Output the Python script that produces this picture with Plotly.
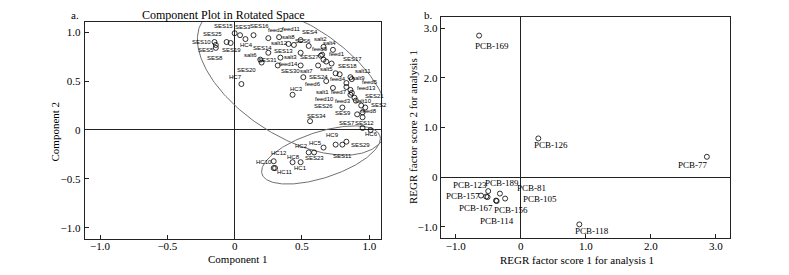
import numpy as np
import plotly.graph_objects as go

# ---------------- data: panel a (rotated component loadings) ----------------
left_names = ["SES15", "SES3", "SES16", "SES25", "SES10", "SES5", "SES8", "SES19", "HC4",
              "feed2", "feed11", "SES4", "salt8", "salt12", "SES6", "salt2", "salt4", "feed9",
              "SES14", "salt6", "SES20", "SES13", "salt3", "SES31", "SES27", "feed1", "feed14",
              "SES30", "salt7", "salt5", "SES17", "SES18", "SES24", "salt11", "feed4", "salt9",
              "feed5", "feed13", "feed7", "SES21", "salt1", "feed6", "HC3", "HC7", "feed3",
              "salt10", "feed10", "SES2", "SES26", "SES9", "feed8", "SES34", "SES7", "SES12",
              "HC6", "HC9", "HC5", "HC2", "SES29", "SES23", "SES11", "HC12", "HC8", "HC1",
              "HC10", "HC11"]
left_comp1 = [0.00, 0.04, 0.14, -0.06, -0.15, -0.14, -0.14, -0.03, 0.08,
              0.25, 0.33, 0.49, 0.40, 0.44, 0.55, 0.66, 0.73, 0.65,
              0.25, 0.19, 0.20, 0.49, 0.34, 0.32, 0.64, 0.66, 0.49,
              0.51, 0.62, 0.68, 0.72, 0.75, 0.78, 0.86, 0.83, 0.87,
              0.86, 0.87, 0.86, 0.89, 0.73, 0.68, 0.43, 0.05, 0.90,
              0.94, 0.83, 0.97, 0.80, 0.91, 0.95, 0.56, 0.95, 0.95,
              1.01, 0.80, 0.66, 0.55, 0.83, 0.59, 0.75, 0.29, 0.43, 0.49,
              0.29, 0.30]
left_comp2 = [0.99, 0.97, 0.97, 0.90, 0.90, 0.87, 0.84, 0.89, 0.93,
              0.94, 0.95, 0.92, 0.88, 0.87, 0.86, 0.85, 0.82, 0.77,
              0.79, 0.72, 0.69, 0.79, 0.74, 0.66, 0.76, 0.72, 0.66,
              0.54, 0.66, 0.70, 0.68, 0.58, 0.57, 0.54, 0.48, 0.52,
              0.41, 0.38, 0.36, 0.33, 0.43, 0.50, 0.36, 0.47, 0.30,
              0.25, 0.44, 0.23, 0.23, 0.16, 0.18, 0.09, 0.13, 0.02,
              0.00, -0.15, -0.18, -0.23, -0.12, -0.23, -0.15, -0.32, -0.33, -0.33,
              -0.39, -0.39]

# ---------------- data: panel b (REGR factor scores) ----------------
right_names = ["PCB-169", "PCB-126", "PCB-77", "PCB-118", "PCB-157", "PCB-123",
               "PCB-189", "PCB-81", "PCB-105", "PCB-167", "PCB-156", "PCB-114"]
right_score1 = [-0.64, 0.27, 2.86, 0.90, -0.61, -0.53, -0.50, -0.32, -0.24, -0.51, -0.38, -0.37]
right_score2 = [2.85, 0.78, 0.41, -0.95, -0.37, -0.39, -0.28, -0.33, -0.43, -0.40, -0.47, -0.48]

left_ticks = [-1.0, -0.5, 0, 0.5, 1.0]
left_ticktext = ["\u22121.0", "\u22120.5", "0", "0.5", "1.0"]
right_ticks = [-1, 0, 1, 2, 3]
right_ticktext = ["\u22121.0", "0", "1.0", "2.0", "3.0"]

# ---------------- layout-only: label offsets in pixels (dx right, dy down) ----------------
left_label_offsets = [(-11, -7), (3, -8), (6, -9), (-14, -8), (-13, 0), (-10, 5), (-1, 10), (1, 7), (1, 6),
                      (8, -8), (12, -8), (9, -8), (0, -7), (-14, -2), (-6, -5), (-3, -8), (-3, -7), (-2, -6),
                      (-6, -5), (-10, -5), (-15, 7), (-17, -2), (10, -1), (-10, -5), (-11, 1), (13, -6), (-12, -1),
                      (-13, -6), (-12, 6), (0, 7), (21, -5), (12, -7), (-21, 3), (13, -6), (-8, -4), (7, -1),
                      (20, -8), (15, -5), (-11, -3), (20, -2), (-10, 4), (-13, 3), (4, -6), (-6, -7), (-13, 0),
                      (2, -5), (-22, 12), (14, -2), (-19, -1), (-14, -1), (6, -1), (6, -5), (-16, 6), (2, -5),
                      (1, 4), (-10, -10), (-8, -5), (-7, -6), (14, 3), (0, 6), (7, 11), (5, -8), (1, -5), (0, 6),
                      (-10, -6), (10, 4)]
right_label_offsets = [(13, 10), (13, 7), (-14, 8), (13, 7), (-18, 0), (-16, -12),
                       (14, -8), (32, -6), (35, 0), (-12, 11), (15, 9), (0, 20)]

W, H = 789, 275
OFF = 8  # page body margin of the html page
SERIF = "Liberation Serif, Times New Roman, serif"
SANS = "Liberation Sans, Arial, sans-serif"

# plot-area boxes in page pixels (left, right, top, bottom)
L_box = (84.7, 381.0, 21.7, 239.0)
R_box = (440.7, 730.3, 16.7, 238.3)
L_xr, L_yr = [-1.114, 1.087], [-1.116, 1.108]
R_xr, R_yr = [-1.23, 3.22], [-1.23, 3.23]


def px(x):
    return (x - OFF) / W


def py(y):
    return 1 - (y - OFF) / H


def dom(box):
    x0, x1, y0, y1 = box
    return [px(x0), px(x1)], [py(y1), py(y0)]


Lxd, Lyd = dom(L_box)
Rxd, Ryd = dom(R_box)

fig = go.Figure()

# ellipses (sized in pixels of panel a, converted to data units)
sx = (L_box[1] - L_box[0]) / (L_xr[1] - L_xr[0])
sy = (L_box[3] - L_box[2]) / (L_yr[1] - L_yr[0])


def ellipse(cx, cy, a, b, ang):
    t = np.linspace(0, 2 * np.pi, 240)
    th = np.deg2rad(ang)
    dx = a * np.cos(t) * np.cos(th) - b * np.sin(t) * np.sin(th)
    dy = a * np.cos(t) * np.sin(th) + b * np.sin(t) * np.cos(th)
    return cx + dx / sx, cy + dy / sy


for (cx, cy, a, b, ang) in [(0.433, 0.512, 108, 56, -33), (0.641, -0.256, 62, 23, 18)]:
    ex, ey = ellipse(cx, cy, a, b, ang)
    fig.add_trace(go.Scatter(x=ex, y=ey, mode="lines", line=dict(color="#707070", width=1),
                             hoverinfo="skip", showlegend=False, xaxis="x", yaxis="y"))

mk = dict(symbol="circle-open", size=5, color="black", line=dict(width=0.8, color="black"))
fig.add_trace(go.Scatter(x=left_comp1, y=left_comp2, mode="markers", text=left_names, marker=mk,
                         showlegend=False, xaxis="x", yaxis="y"))
fig.add_trace(go.Scatter(x=right_score1, y=right_score2, mode="markers", text=right_names, marker=mk,
                         showlegend=False, xaxis="x2", yaxis="y2"))

ann = []
for n, x, y, (dx, dy) in zip(left_names, left_comp1, left_comp2, left_label_offsets):
    ann.append(dict(x=x, y=y, xref="x", yref="y", text=n, showarrow=False, xshift=dx, yshift=-dy,
                    xanchor="center", yanchor="middle",
                    font=dict(family=SANS, size=6, color="#000000")))
for n, x, y, (dx, dy) in zip(right_names, right_score1, right_score2, right_label_offsets):
    ann.append(dict(x=x, y=y, xref="x2", yref="y2", text=n, showarrow=False, xshift=dx, yshift=-dy,
                    xanchor="center", yanchor="middle",
                    font=dict(family=SERIF, size=9, color="#000000")))


def text_at(x, y, s, size=11, angle=0):
    return dict(x=px(x), y=py(y), xref="paper", yref="paper", text=s, showarrow=False,
                xanchor="center", yanchor="middle", textangle=angle,
                font=dict(family=SERIF, size=size, color="black"))


ann += [
    text_at(75, 14.5, "a."),
    text_at(428, 14.5, "b."),
    text_at(223.5, 15, "Component Plot in Rotated Space", size=12),
    text_at(238, 259, "Component 1"),
    text_at(54.5, 132, "Component 2", angle=-90),
    text_at(577, 260, "REGR factor score 1 for analysis 1"),
    text_at(413, 127, "REGR factor score 2 for analysis 1", angle=-90),
]

axis_common = dict(showline=True, linecolor="#222", linewidth=1, mirror=True, showgrid=False,
                   ticks="inside", ticklen=4, tickcolor="#222", zeroline=True, zerolinecolor="#222",
                   zerolinewidth=1, tickfont=dict(family=SERIF, size=11, color="black"))

fig.update_layout(
    width=W, height=H, margin=dict(l=0, r=0, t=0, b=0),
    paper_bgcolor="white", plot_bgcolor="white", showlegend=False,
    xaxis=dict(domain=Lxd, range=L_xr, anchor="y", tickvals=left_ticks, ticktext=left_ticktext,
               ticklabelstandoff=-3, **axis_common),
    yaxis=dict(domain=Lyd, range=L_yr, anchor="x", tickvals=left_ticks, ticktext=left_ticktext,
               ticklabelstandoff=1, **axis_common),
    xaxis2=dict(domain=Rxd, range=R_xr, anchor="y2", tickvals=right_ticks, ticktext=right_ticktext,
                ticklabelstandoff=-3, **axis_common),
    yaxis2=dict(domain=Ryd, range=R_yr, anchor="x2", tickvals=right_ticks, ticktext=right_ticktext,
                **axis_common),
    annotations=ann,
)

fig.write_html("out.html")
